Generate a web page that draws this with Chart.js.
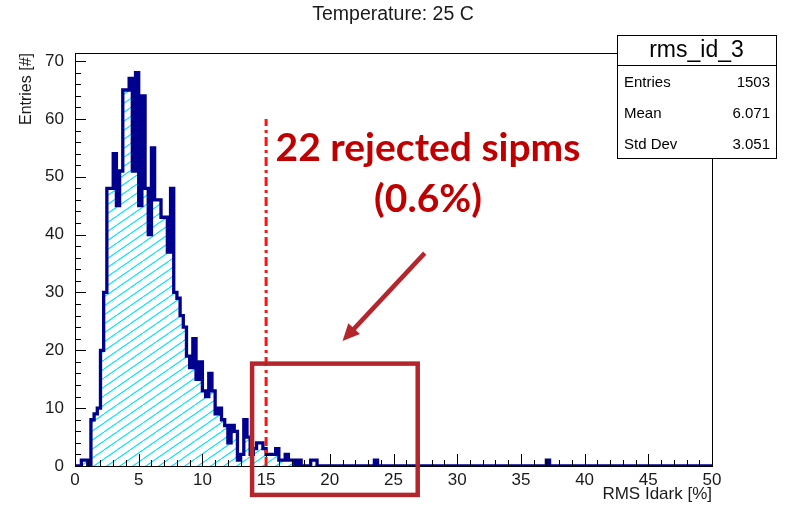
<!DOCTYPE html>
<html>
<head>
<meta charset="utf-8">
<script src="https://cdn.jsdelivr.net/npm/chart.js@4.4.1/dist/chart.umd.min.js"></script>
<style>
  html, body { margin: 0; padding: 0; background: #ffffff; }
  #wrap { width: 786px; height: 508px; position: relative; }
</style>
</head>
<body>
<div id="wrap"><canvas id="c" width="786" height="508"></canvas></div>
<script>
// Histogram rms_id_3: 200 bins of 0.25 % between 0 and 50 % RMS Idark
const binWidth = 0.25;
const binCounts = [
  0, 0, 1, 1, 0, 8, 9, 10, 20, 30, 48, 48, 54, 45, 51, 65, 65, 67, 51, 68,   // 0 - 5
  45, 64, 48, 40, 55, 46, 46, 43, 43, 37, 48, 30, 29, 26, 24, 19, 17, 22, 15, 18, // 5 - 10
  13, 12, 16, 13, 9, 10, 8, 7, 4, 7, 6, 1, 2, 8, 5, 2, 3, 4, 4, 3,          // 10 - 15
  2, 2, 2, 3, 1, 1, 2, 1, 1, 0, 1, 0, 0, 0, 1, 1, 0, 0, 0, 0,               // 15 - 20
  0, 0, 0, 0, 0, 0, 0, 0, 0, 0, 0, 0, 0, 0, 1, 0, 0, 0, 0, 0,               // 20 - 25
  0, 0, 0, 0, 0, 0, 0, 0, 0, 0, 0, 0, 0, 0, 0, 0, 0, 0, 0, 0,               // 25 - 30
  0, 0, 0, 0, 0, 0, 0, 0, 0, 0, 0, 0, 0, 0, 0, 0, 0, 0, 0, 0,               // 30 - 35
  0, 0, 0, 0, 0, 0, 0, 0, 1, 0, 0, 0, 0, 0, 0, 0, 0, 0, 0, 0,               // 35 - 40
  0, 0, 0, 0, 0, 0, 0, 0, 0, 0, 0, 0, 0, 0, 0, 0, 0, 0, 0, 0,               // 40 - 45
  0, 0, 0, 0, 0, 0, 0, 0, 0, 0, 0, 0, 0, 0, 0, 0, 0, 0, 0, 0                // 45 - 50
];
const xRange = [0, 50];
const yRange = [0, 71.4];
const xTickLabels = [0, 5, 10, 15, 20, 25, 30, 35, 40, 45, 50];
const yTickLabels = [0, 10, 20, 30, 40, 50, 60, 70];
const cutValue = 15;          // rejection threshold on RMS Idark [%]
const cutLineTop = 60;        // height of the threshold marker in entries
const statsLabels = ['Entries', 'Mean', 'Std Dev'];
const statsValues = ['1503', '6.071', '3.051'];
const statsTitle = 'rms_id_3';
const noteLines = ['22 rejected sipms', '(0.6%)'];

// step outline points: left edge of each bin, closed at the upper limit
const stepPoints = binCounts.map((n, i) => ({ x: i * binWidth, y: n }));
stepPoints.push({ x: xRange[1], y: 0 });

const canvas = document.getElementById('c');
const ctx0 = canvas.getContext('2d');

function hatchPattern() {
  const w = 13, h = 9;
  const tile = document.createElement('canvas');
  tile.width = w; tile.height = h;
  const g = tile.getContext('2d');
  g.strokeStyle = 'rgb(0, 225, 255)';
  g.lineWidth = 1.1;
  g.beginPath();
  for (let k = -1; k <= 1; k++) {
    g.moveTo(k * w, h);
    g.lineTo(k * w + w, 0);
  }
  g.stroke();
  return ctx0.createPattern(tile, 'repeat');
}

const rootFont = "'Liberation Sans', Arial, Helvetica, sans-serif";

const decorations = {
  id: 'decorations',
  beforeDraw(chart) {
    const ctx = chart.ctx;
    ctx.save();
    ctx.fillStyle = '#ffffff';
    ctx.fillRect(0, 0, chart.width, chart.height);
    ctx.restore();
  },
  afterDatasetsDraw(chart) {
    const ctx = chart.ctx;
    const xs = chart.scales.x, ys = chart.scales.y;
    const { left, right, top, bottom } = chart.chartArea;
    ctx.save();
    // frame
    ctx.strokeStyle = '#000000';
    ctx.lineWidth = 1;
    ctx.strokeRect(left + 0.5, top + 0.5, right - left, bottom - top);
    // inner ticks, x axis: minor every 1, major every 5
    ctx.beginPath();
    for (let v = xRange[0]; v <= xRange[1]; v += 1) {
      const px = Math.round(xs.getPixelForValue(v)) + 0.5;
      const len = v % 5 === 0 ? 12 : 6;
      ctx.moveTo(px, bottom);
      ctx.lineTo(px, bottom - len);
    }
    // inner ticks, y axis: minor every 2, major every 10
    for (let v = 0; v <= 70; v += 2) {
      const py = Math.round(ys.getPixelForValue(v)) + 0.5;
      const len = v % 10 === 0 ? 11 : 6;
      ctx.moveTo(left, py);
      ctx.lineTo(left + len, py);
    }
    ctx.stroke();
    ctx.restore();
  },
  afterDraw(chart) {
    const ctx = chart.ctx;
    const xs = chart.scales.x, ys = chart.scales.y;
    ctx.save();

    // plot title
    ctx.fillStyle = '#1a1a1a';
    ctx.font = '19.5px ' + rootFont;
    ctx.textAlign = 'center';
    ctx.textBaseline = 'middle';
    ctx.fillText('Temperature: 25 C', 393, 15);

    // statistics box
    const bx = 617, by = 35, bw = 159, bh = 123, rowH = 31;
    ctx.fillStyle = '#ffffff';
    ctx.fillRect(bx, by, bw, bh);
    ctx.strokeStyle = '#000000';
    ctx.lineWidth = 1;
    ctx.strokeRect(bx + 0.5, by + 0.5, bw, bh);
    ctx.beginPath();
    ctx.moveTo(bx, by + 30.5);
    ctx.lineTo(bx + bw, by + 30.5);
    ctx.stroke();
    ctx.fillStyle = '#000000';
    ctx.font = '23px ' + rootFont;
    ctx.textAlign = 'center';
    ctx.fillText(statsTitle, bx + bw / 2, by + 16);
    ctx.font = '15px ' + rootFont;
    statsLabels.forEach((lab, i) => {
      const y = by + 48 + i * rowH;
      ctx.textAlign = 'left';
      ctx.fillText(lab, bx + 7, y);
      ctx.textAlign = 'right';
      ctx.fillText(statsValues[i], bx + bw - 6, y);
    });

    // threshold marker
    const cx = xs.getPixelForValue(cutValue);
    ctx.strokeStyle = '#ff1414';
    ctx.lineWidth = 3;
    ctx.setLineDash([9, 4, 3, 4]);
    ctx.beginPath();
    ctx.moveTo(cx, ys.getPixelForValue(0));
    ctx.lineTo(cx, ys.getPixelForValue(cutLineTop));
    ctx.stroke();
    ctx.setLineDash([]);

    // box around the rejected tail
    const dark = '#b5262c';
    ctx.strokeStyle = dark;
    ctx.lineWidth = 4.5;
    const rx0 = xs.getPixelForValue(13.9), rx1 = xs.getPixelForValue(26.9);
    const ry0 = ys.getPixelForValue(17.7), ry1 = ys.getPixelForValue(-5.0);
    ctx.strokeRect(rx0, ry0, rx1 - rx0, ry1 - ry0);

    // arrow pointing into the tail
    const ax0 = xs.getPixelForValue(27.45), ay0 = ys.getPixelForValue(36.8);
    const ax1 = xs.getPixelForValue(21.0), ay1 = ys.getPixelForValue(21.6);
    const ang = Math.atan2(ay1 - ay0, ax1 - ax0);
    const headL = 17, headW = 8;
    ctx.lineWidth = 4.5;
    ctx.beginPath();
    ctx.moveTo(ax0, ay0);
    ctx.lineTo(ax1 - headL * 0.8 * Math.cos(ang), ay1 - headL * 0.8 * Math.sin(ang));
    ctx.stroke();
    ctx.fillStyle = dark;
    ctx.beginPath();
    ctx.moveTo(ax1, ay1);
    ctx.lineTo(ax1 - headL * Math.cos(ang) + headW * Math.sin(ang), ay1 - headL * Math.sin(ang) - headW * Math.cos(ang));
    ctx.lineTo(ax1 - headL * Math.cos(ang) - headW * Math.sin(ang), ay1 - headL * Math.sin(ang) + headW * Math.cos(ang));
    ctx.closePath();
    ctx.fill();

    // annotation text
    ctx.fillStyle = '#c00000';
    ctx.textAlign = 'center';
    ctx.textBaseline = 'alphabetic';
    ctx.font = "bold 39px Lato, 'Open Sans', sans-serif";
    ctx.fillText(noteLines[0], 428, 161);
    ctx.fillText(noteLines[1], 428, 212);

    ctx.restore();
  }
};

new Chart(canvas, {
  type: 'line',
  data: {
    datasets: [{
      data: stepPoints,
      stepped: 'before',
      borderColor: '#00008f',
      borderWidth: 3.3,
      pointRadius: 0,
      fill: 'origin',
      backgroundColor: hatchPattern(),
      tension: 0
    }]
  },
  options: {
    responsive: false,
    devicePixelRatio: 1,
    animation: false,
    events: [],
    layout: { padding: { top: 53, right: 74, left: 0, bottom: 0 } },
    plugins: { legend: { display: false }, tooltip: { enabled: false } },
    scales: {
      x: {
        type: 'linear',
        min: xRange[0],
        max: xRange[1],
        grid: { display: false, drawTicks: false },
        border: { display: false },
        afterBuildTicks: s => { s.ticks = xTickLabels.map(v => ({ value: v })); },
        afterFit: s => { s.height = 42; },
        ticks: {
          autoSkip: false, maxRotation: 0, padding: 4,
          color: '#1a1a1a',
          font: { family: rootFont, size: 17, lineHeight: 1.2 }
        },
        title: {
          display: true, text: 'RMS Idark [%]', align: 'end',
          color: '#1a1a1a',
          font: { family: rootFont, size: 17, lineHeight: 1.2 },
          padding: { top: 0, bottom: 3 }
        }
      },
      y: {
        type: 'linear',
        min: yRange[0],
        max: yRange[1],
        grid: { display: false, drawTicks: false },
        border: { display: false },
        afterBuildTicks: s => { s.ticks = yTickLabels.map(v => ({ value: v })); },
        afterFit: s => { s.width = 75; },
        ticks: {
          autoSkip: false, padding: 11,
          color: '#1a1a1a',
          font: { family: rootFont, size: 17, lineHeight: 1.2 }
        },
        title: {
          display: true, text: 'Entries [#]', align: 'end',
          color: '#1a1a1a',
          font: { family: rootFont, size: 16, lineHeight: 1.2 },
          padding: { top: 17, bottom: 0 }
        }
      }
    }
  },
  plugins: [decorations]
});
</script>
</body>
</html>
